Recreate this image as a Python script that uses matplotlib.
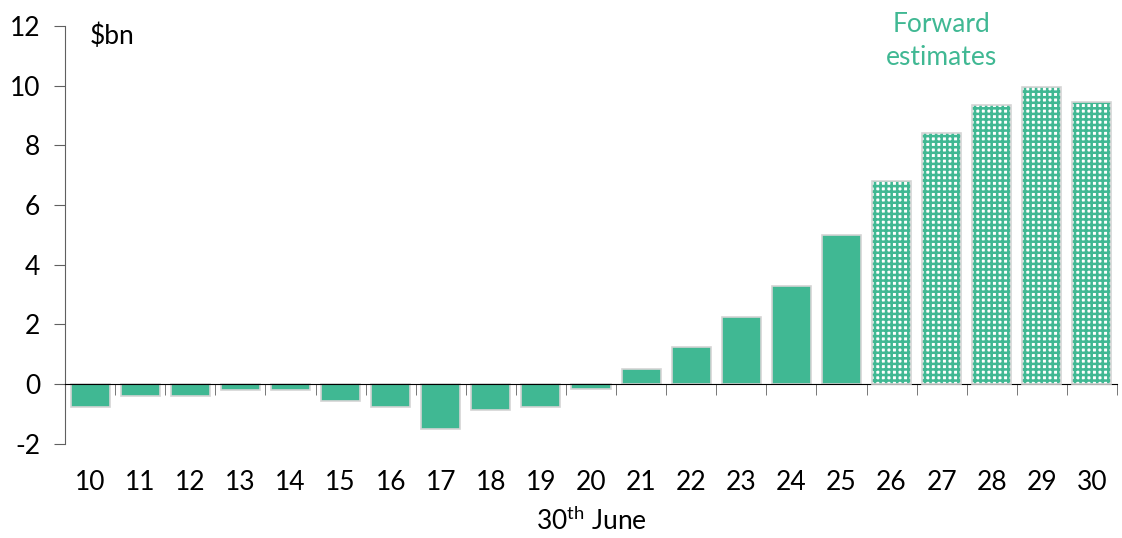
import numpy as np
import matplotlib
matplotlib.use('Agg')
import matplotlib.pyplot as plt

plt.rcParams['font.family'] = ['Lato', 'DejaVu Sans']
plt.rcParams['mathtext.fontset'] = 'custom'
plt.rcParams['mathtext.rm'] = 'Lato'
plt.rcParams['hatch.linewidth'] = 1.85
plt.rcParams['axes.unicode_minus'] = False

# Values in $bn by year ending 30 June
years = ['10', '11', '12', '13', '14', '15', '16', '17', '18', '19', '20',
         '21', '22', '23', '24', '25', '26', '27', '28', '29', '30']
values = [-0.75, -0.4, -0.4, -0.2, -0.2, -0.55, -0.75, -1.5, -0.85, -0.75, -0.15,
          0.5, 1.25, 2.25, 3.3, 5.0, 6.8, 8.4, 9.35, 9.95, 9.45]
n_forward = 5  # last five years are forward estimates

green = '#40b893'
edge = '#d4d4d4'

fig = plt.figure(figsize=(11.22, 5.38), dpi=100)
ax = fig.add_axes([0.058, 0.175, 0.9375, 0.777])

x = np.arange(len(years))
n_actual = len(years) - n_forward

# actuals: solid bars
ax.bar(x[:n_actual], values[:n_actual], width=0.78, color=green,
       edgecolor=edge, linewidth=1.2, zorder=2)
# forward estimates: white squares on a green grid
ax.bar(x[n_actual:], values[n_actual:], width=0.78, color='white',
       edgecolor=green, hatch='+++', linewidth=0, zorder=2)
ax.bar(x[n_actual:], values[n_actual:], width=0.78, color='none',
       edgecolor=edge, linewidth=1.2, zorder=3)

ax.set_xlim(-0.5, len(years) - 0.5)
ax.set_ylim(-2, 12)
ax.set_yticks(np.arange(-2, 13, 2))

for s in ['top', 'right']:
    ax.spines[s].set_visible(False)
ax.spines['left'].set_color('#606060')
ax.spines['bottom'].set_position(('data', 0))
ax.spines['bottom'].set_color('black')

ax.tick_params(axis='y', direction='out', length=8, color='#606060',
               labelsize=19, pad=10)
ax.set_xticks(x)
ax.set_xticklabels(years)
ax.set_xticks(np.arange(-0.5, len(years), 1.0), minor=True)
ax.tick_params(axis='x', which='major', length=0, labelsize=19, pad=62)
ax.tick_params(axis='x', which='minor', length=8, color='#606060', direction='out')

ax.text(0, 11.65, '$bn', fontsize=19, va='center', ha='left')
ax.text(len(years) - n_forward + 1, 11.5, 'Forward\nestimates', color=green,
        fontsize=19, ha='center', va='center', linespacing=1.4)

ax.text(0.5, -0.205, '30$^{\\mathrm{th}}$ June', transform=ax.transAxes,
        fontsize=19, ha='center', va='baseline')

fig.savefig('out.png', dpi=100)
